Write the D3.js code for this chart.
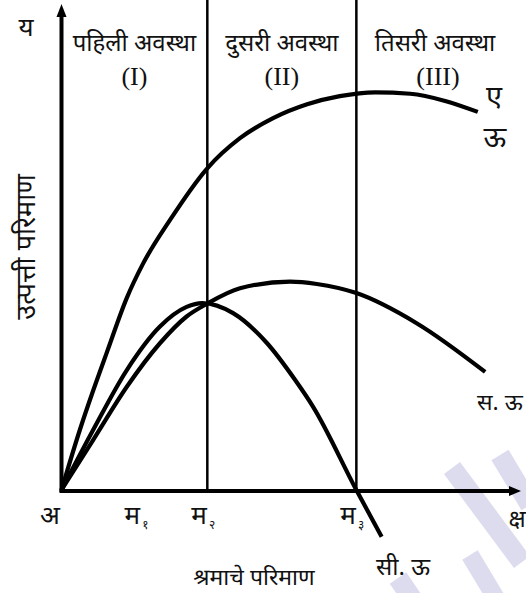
<!DOCTYPE html>
<html><head><meta charset="utf-8">
<script src="https://cdn.jsdelivr.net/npm/d3@7"></script>
<style>
html,body{margin:0;padding:0;background:#fff;}
svg{display:block;}
.dev{font-family:"Noto Sans Devanagari","Lohit Devanagari","Noto Serif Devanagari","Noto Sans",sans-serif;fill:#111;}
.rom{font-family:"Liberation Serif","DejaVu Serif",serif;fill:#111;}
</style></head>
<body>
<svg id="c" width="526" height="593"></svg>
<script>
// ---- data (labour units on x, output units on y) ----
const tpX = [0, 4.0, 6.85, 9.9, 14.2, 17.7, 23.6, 31.6, 38.8, 46.0, 53.4, 60.5, 68.2, 75.8, 83.4, 90.5];
const tpY = [0, 12.6, 20.7, 28.9, 40.2, 47.3, 56.5, 67.2, 73.6, 77.8, 80.7, 82.4, 83.2, 82.9, 81.4, 79.1];
const apX = [0, 6.9, 14.2, 21.4, 27.2, 31.7, 38.8, 49.7, 55.5, 64.1, 77.2, 92.1];
const apY = [0, 10.5, 21.6, 30.7, 36.3, 39.0, 42.2, 43.6, 43.1, 41.2, 34.9, 24.7];
const mpX = [0, 6.9, 14.2, 21.4, 27.2, 30.6, 37.3, 44.6, 50.8, 54.7, 64.1, 69.6];
const mpY = [0, 12.6, 25.1, 34.2, 38.3, 39.1, 37.0, 30.8, 23.0, 17.4, 0, -9.8];
const stageMarks = [31.7, 64.1];           // म२, म३ vertical lines
const tickNames = ["अ", "म", "म", "म"];
const tickSubs = ["", "१", "२", "३"];
const tickPos = [0, 17.2, 31.7, 64.1];
const stageNames = ["पहिली अवस्था", "दुसरी अवस्था", "तिसरी अवस्था"];
const stageRoman = ["(I)", "(II)", "(III)"];

const svg = d3.select("#c");
const x = d3.scaleLinear().domain([0, 100]).range([61.5, 521.5]);
const y = d3.scaleLinear().domain([0, 100]).range([490, 12]);

// watermark (faint)
const wm = svg.append("g");
[[452,468,522,562,20],[500,455,530,505,20],[398,578,430,625,20],[470,555,500,605,18]].forEach(d=>{
  const [x1,y1,x2,y2,w]=d;
  wm.append("line").attr("x1",x1).attr("y1",y1).attr("x2",x2).attr("y2",y2)
    .attr("stroke","#dddcef").attr("stroke-width",w);
});

// stage vertical lines
svg.selectAll("line.stage").data(stageMarks).join("line")
  .attr("class","stage")
  .attr("x1", d=>x(d)).attr("x2", d=>x(d))
  .attr("y1", 0).attr("y2", y(0))
  .attr("stroke", "#000").attr("stroke-width", 2.5);

// axes
svg.append("line").attr("x1", x(0)).attr("x2", x(0)).attr("y1", y(0)+2).attr("y2", 16)
  .attr("stroke","#000").attr("stroke-width",4);
svg.append("path").attr("d", `M${x(0)},4 L${x(0)-5},17 L${x(0)+5},17 Z`).attr("fill","#000");
svg.append("line").attr("x1", x(0)-2).attr("x2", 512).attr("y1", y(0)+1).attr("y2", y(0)+1)
  .attr("stroke","#000").attr("stroke-width",4);
svg.append("path").attr("d", `M521,${y(0)+1} L509,${y(0)-4} L509,${y(0)+6} Z`).attr("fill","#000");

// curves
const line = d3.line().x(d=>x(d[0])).y(d=>y(d[1])).curve(d3.curveMonotoneX);
const series = [[tpX,tpY],[apX,apY],[mpX,mpY]];
svg.selectAll("path.curve").data(series).join("path")
  .attr("class","curve")
  .attr("d", s => line(s[0].map((v,i)=>[v, s[1][i]])))
  .attr("fill","none").attr("stroke","#000").attr("stroke-width",4.2);

// stage titles
const bounds = [0, ...stageMarks, 84];
stageNames.forEach((t,i)=>{
  const cx = i<2 ? (x(bounds[i])+x(bounds[i+1]))/2 : 435;
  svg.append("text").attr("class","dev").attr("x",cx).attr("y",51)
    .attr("text-anchor","middle").attr("font-size",24).text(t);
  svg.append("text").attr("class","rom").attr("x", i<2?cx:438).attr("y",85)
    .attr("text-anchor","middle").attr("font-size",26).text(stageRoman[i]);
});

// x tick labels
tickPos.forEach((p,i)=>{
  const tx = i===0 ? 50 : x(p)-16;
  const t = svg.append("text").attr("class","dev").attr("x", tx).attr("y", 524)
    .attr("font-size", 26).attr("text-anchor", i===0?"middle":"start").text(tickNames[i]);
  if (tickSubs[i]) t.append("tspan").attr("font-size", 12).attr("dx", 2).attr("dy", 5).text(tickSubs[i]);
});

// axis names and curve labels
svg.append("text").attr("class","dev").attr("x",26).attr("y",36).attr("text-anchor","middle").attr("font-size",26).text("य");
svg.append("text").attr("class","dev").attr("x",517).attr("y",527).attr("text-anchor","middle").attr("font-size",24).text("क्ष");
svg.append("text").attr("class","dev").attr("x",254).attr("y",585).attr("text-anchor","middle").attr("font-size",23).text("श्रमाचे परिमाण");
svg.append("text").attr("class","dev").attr("transform","translate(35,247) rotate(-90)").attr("text-anchor","middle").attr("font-size",27).text("उत्पत्ती परिमाण");
svg.append("text").attr("class","dev").attr("x",494).attr("y",106).attr("text-anchor","middle").attr("font-size",29).text("ए");
svg.append("text").attr("class","dev").attr("x",495).attr("y",147).attr("text-anchor","middle").attr("font-size",29).text("ऊ");
svg.append("text").attr("class","dev").attr("x",477).attr("y",410).attr("font-size",23).text("स. ऊ");
svg.append("text").attr("class","dev").attr("x",403).attr("y",575).attr("text-anchor","middle").attr("font-size",24).text("सी. ऊ");
</script>
</body></html>
